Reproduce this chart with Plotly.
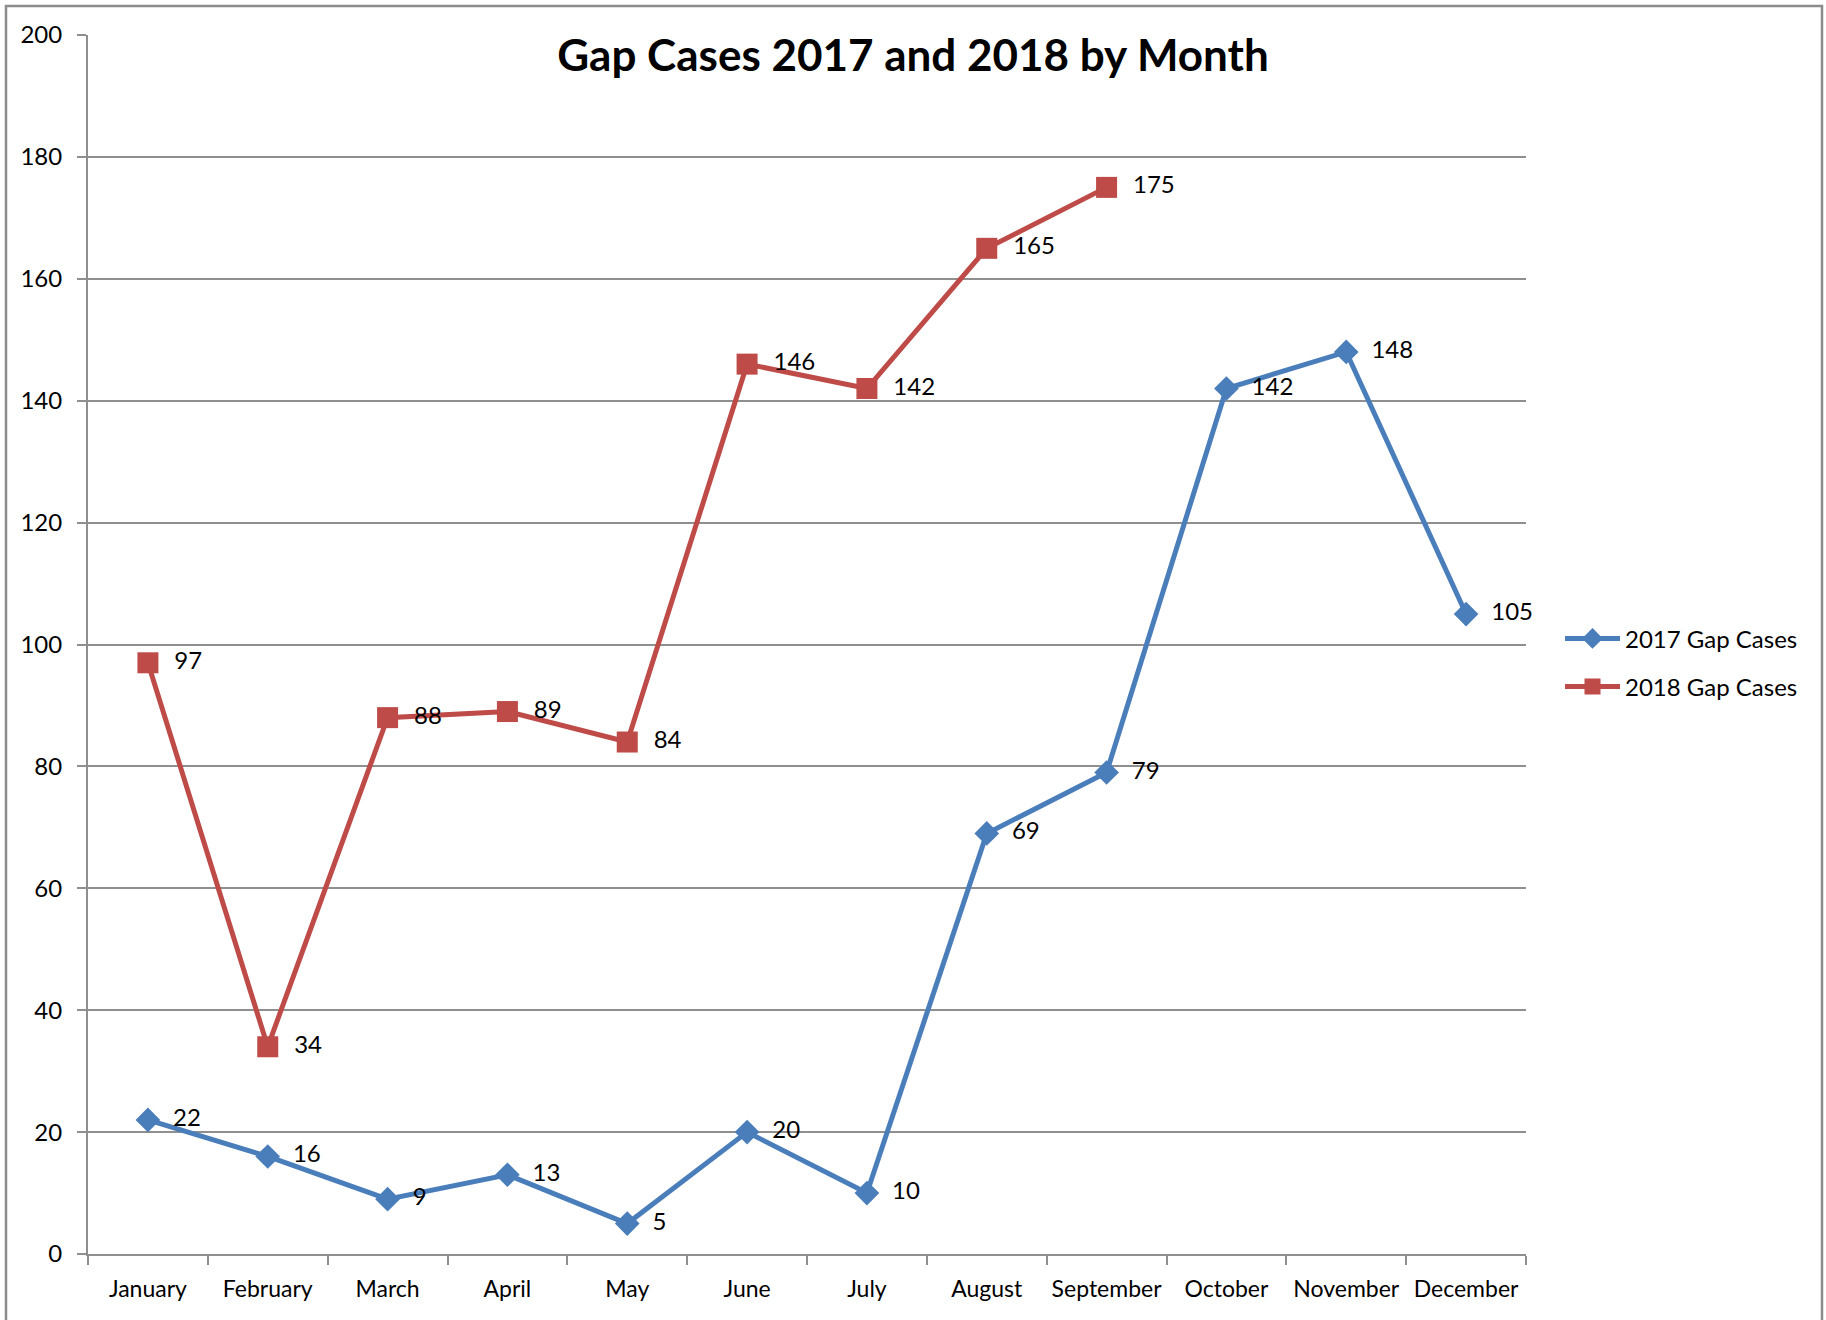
import plotly.graph_objects as go

months = ["January", "February", "March", "April", "May", "June", "July",
          "August", "September", "October", "November", "December"]
cases_2017 = [22, 16, 9, 13, 5, 20, 10, 69, 79, 142, 148, 105]
cases_2018 = [97, 34, 88, 89, 84, 146, 142, 165, 175]

W, H = 1826, 1320
L, R, T, B = 88, 300, 35, 66
FONT = "Lato"
GRID = "#8f8f8f"
PAD = "\u00a0\u00a0"

fig = go.Figure()
fig.add_trace(go.Scatter(
    x=months, y=cases_2017, name="2017 Gap Cases", legendgroup="a", mode="lines+markers+text",
    line=dict(color="#4A7EBB", width=5),
    marker=dict(symbol="diamond", size=19, color="#4A7EBB"),
    text=[PAD + str(v) for v in cases_2017], textposition="middle right",
    textfont=dict(family=FONT, size=24, color="black"), cliponaxis=False,
))
fig.add_trace(go.Scatter(
    x=months[:len(cases_2018)], y=cases_2018, name="2018 Gap Cases", legendgroup="b",
    mode="lines+markers+text",
    line=dict(color="#BE4B48", width=5),
    marker=dict(symbol="square", size=21, color="#BE4B48"),
    text=[PAD + str(v) for v in cases_2018], textposition="middle right",
    textfont=dict(family=FONT, size=24, color="black"), cliponaxis=False,
))

pw = W - L - R
ph = H - T - B
fig.add_shape(type="rect", xref="paper", yref="paper",
              x0=(6 - L) / pw, x1=(1822 - L) / pw,
              y0=-(H + 5 - T - ph) / ph, y1=(H - 6 - B) / ph,
              line=dict(color="#8c8c8c", width=2.5), fillcolor="rgba(0,0,0,0)", layer="below")

fig.update_layout(
    width=W, height=H,
    margin=dict(l=L, r=R, t=T, b=B, autoexpand=False),
    paper_bgcolor="white", plot_bgcolor="white",
    font=dict(family=FONT, size=24, color="black"),
    title=dict(text="<b>Gap Cases 2017 and 2018 by Month</b>", x=0.5, xanchor="center",
               xref="container", y=1 - 56 / H, yanchor="middle", yref="container",
               font=dict(family=FONT, size=44, color="black")),
    showlegend=True,
    legend=dict(x=(1560 - L) / pw, y=0.485, xanchor="left", yanchor="middle",
                font=dict(family=FONT, size=24), itemwidth=55,
                tracegroupgap=14, bgcolor="rgba(0,0,0,0)"),
    xaxis=dict(type="category", categoryorder="array", categoryarray=months,
               range=[-0.5, 11.5], showgrid=False, zeroline=False, automargin=False,
               showline=True, linecolor=GRID, linewidth=2, tickangle=0,
               ticks="outside", tickson="boundaries", ticklen=9, tickcolor=GRID, tickwidth=2,
               ticklabelstandoff=13,
               tickfont=dict(family=FONT, size=23)),
    yaxis=dict(range=[0, 200], dtick=20, showgrid=True, gridcolor=GRID, gridwidth=1.5,
               zeroline=False, showline=True, linecolor=GRID, linewidth=2, automargin=False,
               ticks="outside", ticklen=9, tickcolor=GRID, tickwidth=2,
               ticklabelstandoff=10,
               tickfont=dict(family=FONT, size=24)),
)
fig.write_html("out.html", config={"displayModeBar": False},
               post_script="document.body.style.margin='0px';")
